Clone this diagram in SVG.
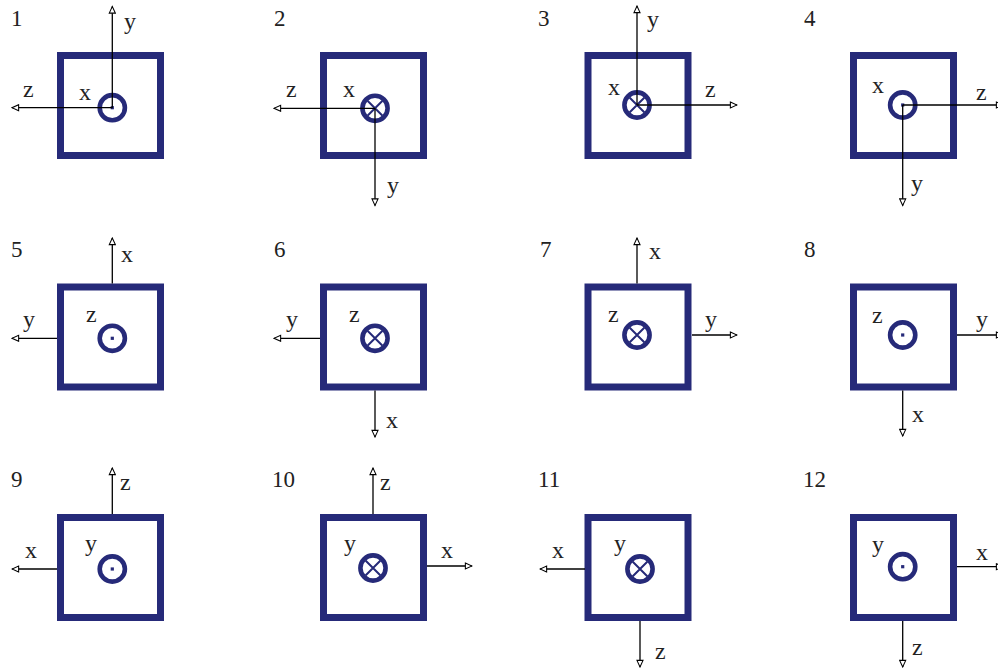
<svg xmlns="http://www.w3.org/2000/svg" width="998" height="670" viewBox="0 0 998 670">
<defs>
<style>
.sq{fill:#fff;stroke:#262a79;stroke-width:7}
.ring{fill:#fff;stroke:#262a79;stroke-width:4.6}
.dot{fill:#262a79}
.cr{stroke:#262a79;stroke-width:2}
.ax{fill:none;stroke:#000;stroke-width:1.3;marker-end:url(#ah)}
.num{font-family:"Liberation Serif","DejaVu Serif",serif;font-size:23px;fill:#222}
.lb{font-family:"Liberation Serif","DejaVu Serif",serif;font-size:24px;fill:#222}
</style>
<marker id="ah" viewBox="0 0 10 10" refX="9.3" refY="5" markerWidth="9" markerHeight="8" orient="auto" markerUnits="userSpaceOnUse">
<path d="M1,1.2 L9.3,5 L1,8.8 Z" fill="#fff" stroke="#000" stroke-width="1.3"/>
</marker>
<g id="dotsym"><circle r="12.6" class="ring"/><rect x="-1.6" y="-1.6" width="3.2" height="3.2" class="dot"/></g>
<g id="crosssym"><circle r="12.6" class="ring"/><path class="cr" d="M-7.5,-7.5 L7.5,7.5 M-7.5,7.5 L7.5,-7.5"/></g>
</defs>
<rect width="998" height="670" fill="#fff"/>

<g id="panel1">
<rect class="sq" x="60.5" y="55.5" width="100" height="100"/>
<use href="#dotsym" x="112.3" y="107.7"/>
<text class="num" x="11" y="26">1</text>
<text class="lb" x="124" y="29">y</text>
<text class="lb" x="23" y="97">z</text>
<text class="lb" x="79" y="100">x</text>
</g>
<g id="panel2">
<rect class="sq" x="323.5" y="55.5" width="100" height="100"/>
<use href="#crosssym" x="375" y="108.3"/>
<text class="num" x="274" y="26">2</text>
<text class="lb" x="286" y="97">z</text>
<text class="lb" x="343" y="97">x</text>
<text class="lb" x="387" y="193">y</text>
</g>
<g id="panel3">
<rect class="sq" x="588" y="55.5" width="100" height="100"/>
<use href="#crosssym" x="637" y="105"/>
<text class="num" x="538" y="26">3</text>
<text class="lb" x="647" y="27">y</text>
<text class="lb" x="608" y="95">x</text>
<text class="lb" x="705" y="97">z</text>
</g>
<g id="panel4">
<rect class="sq" x="853.5" y="55.5" width="100" height="100"/>
<use href="#dotsym" x="902.7" y="105"/>
<text class="num" x="804" y="26">4</text>
<text class="lb" x="872" y="93">x</text>
<text class="lb" x="976" y="100">z</text>
<text class="lb" x="911" y="191">y</text>
</g>

<g id="panel5">
<rect class="sq" x="60.5" y="287" width="100" height="100"/>
<use href="#dotsym" x="112.3" y="338.3"/>
<text class="num" x="11" y="257">5</text>
<text class="lb" x="121" y="262">x</text>
<text class="lb" x="23" y="327">y</text>
<text class="lb" x="86" y="322">z</text>
</g>
<g id="panel6">
<rect class="sq" x="323.5" y="287" width="100" height="100"/>
<use href="#crosssym" x="375" y="338.3"/>
<text class="num" x="274" y="257">6</text>
<text class="lb" x="286" y="327">y</text>
<text class="lb" x="349" y="322">z</text>
<text class="lb" x="386" y="428">x</text>
</g>
<g id="panel7">
<rect class="sq" x="588" y="287" width="100" height="100"/>
<use href="#crosssym" x="637" y="335"/>
<text class="num" x="540" y="257">7</text>
<text class="lb" x="649" y="259">x</text>
<text class="lb" x="608" y="322">z</text>
<text class="lb" x="705" y="327">y</text>
</g>
<g id="panel8">
<rect class="sq" x="853.5" y="287" width="100" height="100"/>
<use href="#dotsym" x="902.7" y="335"/>
<text class="num" x="804" y="257">8</text>
<text class="lb" x="872" y="323">z</text>
<text class="lb" x="976" y="327">y</text>
<text class="lb" x="912" y="422">x</text>
</g>

<g id="panel9">
<rect class="sq" x="60.5" y="517.5" width="100" height="100"/>
<use href="#dotsym" x="112.3" y="569"/>
<text class="num" x="11" y="487">9</text>
<text class="lb" x="120" y="490">z</text>
<text class="lb" x="25" y="558">x</text>
<text class="lb" x="85" y="551">y</text>
</g>
<g id="panel10">
<rect class="sq" x="323.5" y="517.5" width="100" height="100"/>
<use href="#crosssym" x="373" y="568"/>
<text class="num" x="272" y="487">10</text>
<text class="lb" x="380" y="490">z</text>
<text class="lb" x="344" y="551">y</text>
<text class="lb" x="441" y="558">x</text>
</g>
<g id="panel11">
<rect class="sq" x="588" y="517.5" width="100" height="100"/>
<use href="#crosssym" x="640" y="569"/>
<text class="num" x="538" y="487">11</text>
<text class="lb" x="552" y="558">x</text>
<text class="lb" x="614" y="551">y</text>
<text class="lb" x="655" y="659">z</text>
</g>
<g id="panel12">
<rect class="sq" x="853.5" y="517.5" width="100" height="100"/>
<use href="#dotsym" x="902.7" y="566.7"/>
<text class="num" x="803" y="487">12</text>
<text class="lb" x="872" y="552">y</text>
<text class="lb" x="976" y="560">x</text>
<text class="lb" x="912" y="655">z</text>
</g>

<g id="connectors">
<path class="ax" d="M112.3,107.7 V6.5"/>
<path class="ax" d="M112.3,107.7 H12"/>
<path class="ax" d="M375,108.3 H274"/>
<path class="ax" d="M375,108.3 V205.5"/>
<path class="ax" d="M637,105 V6"/>
<path class="ax" d="M637,105 H737"/>
<path class="ax" d="M902.7,105 H1003"/>
<path class="ax" d="M902.7,105 V205.5"/>
<path class="ax" d="M112.3,283.5 V238"/>
<path class="ax" d="M57,338.3 H12"/>
<path class="ax" d="M320,338.3 H274"/>
<path class="ax" d="M375,390.5 V437"/>
<path class="ax" d="M637,283.5 V238"/>
<path class="ax" d="M692,335 H737"/>
<path class="ax" d="M957,335 H1003"/>
<path class="ax" d="M902.7,390.5 V436"/>
<path class="ax" d="M112.3,514 V468"/>
<path class="ax" d="M57,569 H12"/>
<path class="ax" d="M373,514 V468"/>
<path class="ax" d="M427,566 H472"/>
<path class="ax" d="M585,569 H540"/>
<path class="ax" d="M640,621 V667"/>
<path class="ax" d="M957,566.7 H1003"/>
<path class="ax" d="M902.7,621 V667"/>
</g>
</svg>
